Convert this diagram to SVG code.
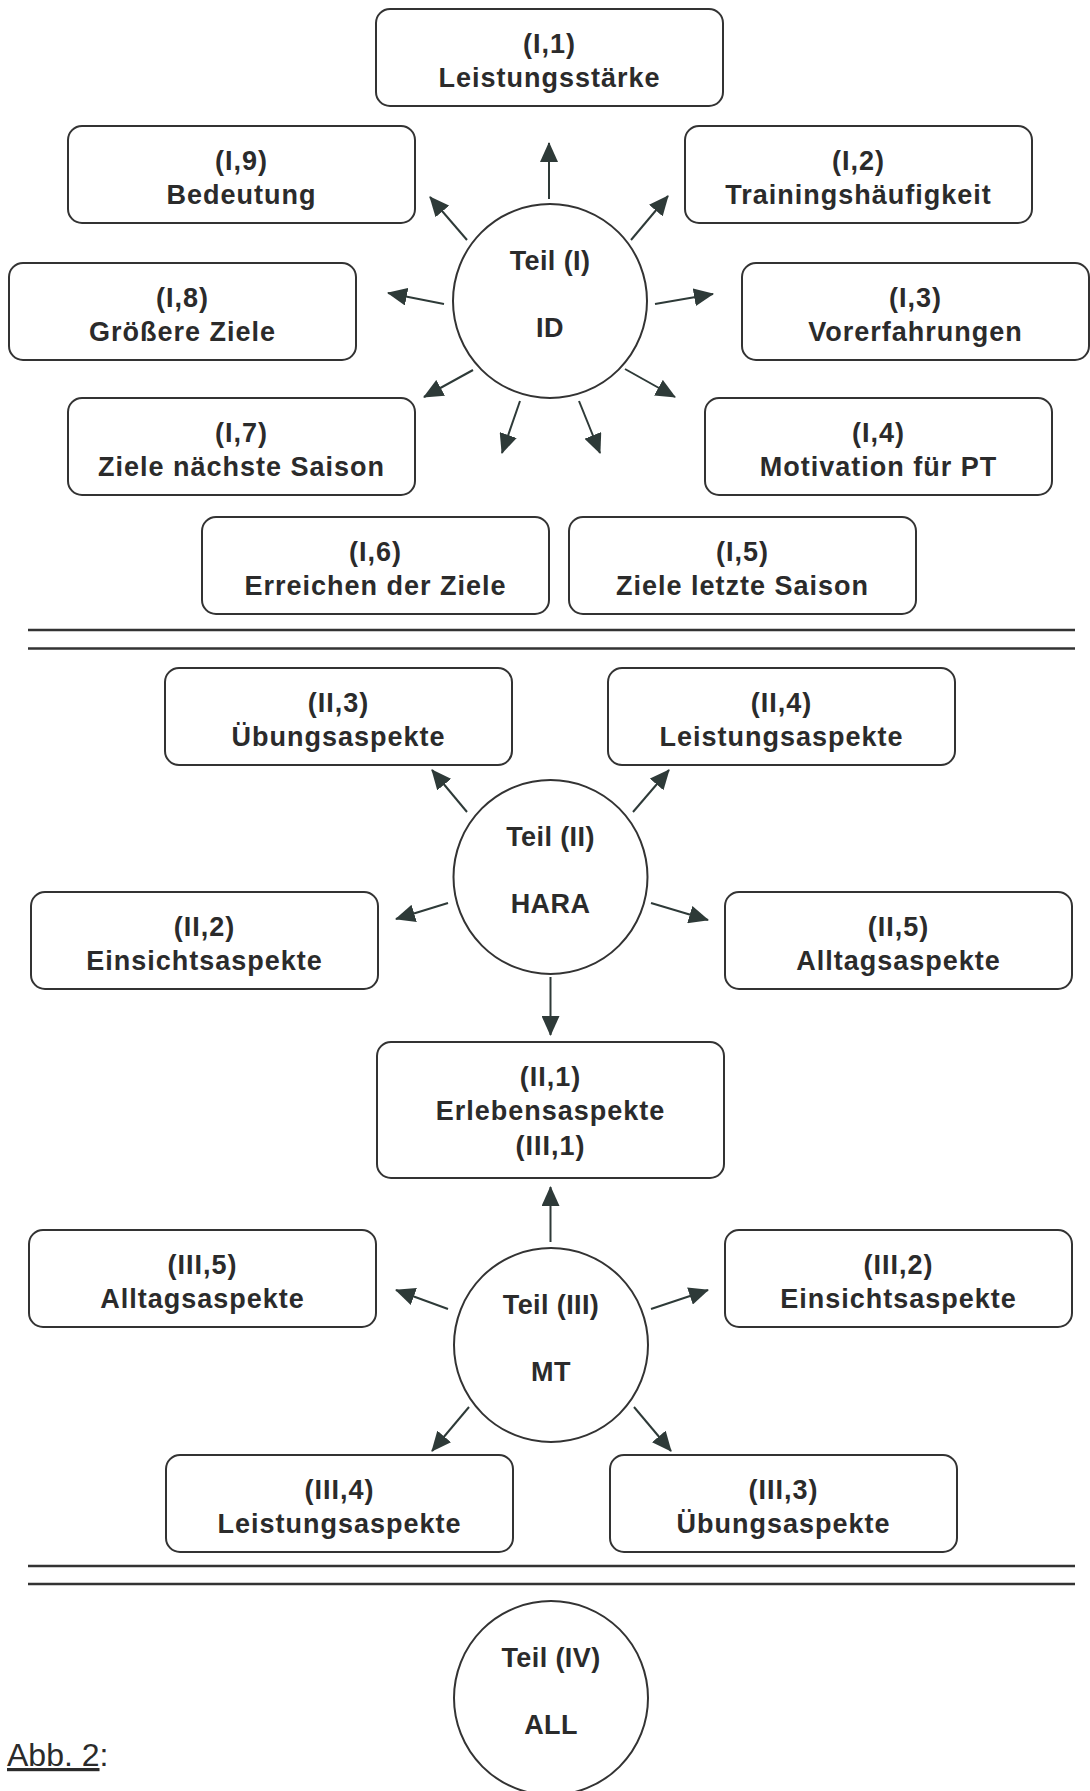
<svg xmlns="http://www.w3.org/2000/svg" width="1090" height="1791" viewBox="0 0 1090 1791">
<style>
.box{fill:#fff;stroke:#333;stroke-width:2}
.circ{fill:#fff;stroke:#333;stroke-width:2}
.t{font-family:"Liberation Sans",Arial,sans-serif;font-weight:bold;font-size:27px;letter-spacing:1px;fill:#2b2b2b;text-anchor:middle}
.ct{font-family:"Liberation Sans",Arial,sans-serif;font-weight:bold;font-size:27px;letter-spacing:0.4px;fill:#2b2b2b;text-anchor:middle}
.con{stroke:#2e3a38;stroke-width:2;fill:none;marker-end:url(#ah)}
.sep{stroke:#333;stroke-width:2.5}
.cap{font-family:"Liberation Sans",Arial,sans-serif;font-size:32px;fill:#2b2b2b}
</style>
<defs>
<marker id="ah" viewBox="0 0 20 18" refX="19" refY="9" markerWidth="20" markerHeight="18" markerUnits="userSpaceOnUse" orient="auto">
<path d="M0,0 L20,9 L0,18 z" fill="#2e3a38"/>
</marker>
</defs>
<rect width="1090" height="1791" fill="#fff"/>

<g id="separators">
<line class="sep" x1="28" y1="630" x2="1075" y2="630"/>
<line class="sep" x1="28" y1="648.5" x2="1075" y2="648.5"/>
<line class="sep" x1="28" y1="1566" x2="1075" y2="1566"/>
<line class="sep" x1="28" y1="1584" x2="1075" y2="1584"/>
</g>

<g id="connectors">
<line class="con" x1="549" y1="199" x2="549" y2="143"/>
<line class="con" x1="467" y1="240" x2="430" y2="197"/>
<line class="con" x1="631" y1="240" x2="668" y2="196"/>
<line class="con" x1="444" y1="304" x2="388" y2="293"/>
<line class="con" x1="655" y1="304" x2="713" y2="294"/>
<line class="con" x1="473" y1="370" x2="424" y2="397"/>
<line class="con" x1="625" y1="369" x2="675" y2="397"/>
<line class="con" x1="520" y1="401" x2="502" y2="453"/>
<line class="con" x1="579" y1="401" x2="600" y2="453"/>
<line class="con" x1="467" y1="812" x2="432" y2="770"/>
<line class="con" x1="633" y1="812" x2="669" y2="770"/>
<line class="con" x1="448" y1="903" x2="396" y2="919"/>
<line class="con" x1="651" y1="903" x2="708" y2="920"/>
<line class="con" x1="550.5" y1="977" x2="550.5" y2="1035"/>
<line class="con" x1="550.5" y1="1242" x2="550.5" y2="1187"/>
<line class="con" x1="448" y1="1309" x2="396" y2="1290"/>
<line class="con" x1="651" y1="1309" x2="708" y2="1290"/>
<line class="con" x1="469" y1="1407" x2="432" y2="1451"/>
<line class="con" x1="634" y1="1407" x2="671" y2="1451"/>
</g>

<g id="teil1">
<circle class="circ" cx="550" cy="301" r="97"/>
<text class="ct" x="550" y="270">Teil (I)</text>
<text class="ct" x="550" y="337">ID</text>
</g>
<g id="I1"><rect class="box" x="376" y="9" width="347" height="97" rx="14"/>
<text class="t" x="549.5" y="52.5">(I,1)</text><text class="t" x="549.5" y="86.5">Leistungsstärke</text></g>
<g id="I9"><rect class="box" x="68" y="126" width="347" height="97" rx="14"/>
<text class="t" x="241.5" y="169.5">(I,9)</text><text class="t" x="241.5" y="203.5">Bedeutung</text></g>
<g id="I2"><rect class="box" x="685" y="126" width="347" height="97" rx="14"/>
<text class="t" x="858.5" y="169.5">(I,2)</text><text class="t" x="858.5" y="203.5">Trainingshäufigkeit</text></g>
<g id="I8"><rect class="box" x="9" y="263" width="347" height="97" rx="14"/>
<text class="t" x="182.5" y="306.5">(I,8)</text><text class="t" x="182.5" y="340.5">Größere Ziele</text></g>
<g id="I3"><rect class="box" x="742" y="263" width="347" height="97" rx="14"/>
<text class="t" x="915.5" y="306.5">(I,3)</text><text class="t" x="915.5" y="340.5">Vorerfahrungen</text></g>
<g id="I7"><rect class="box" x="68" y="398" width="347" height="97" rx="14"/>
<text class="t" x="241.5" y="441.5">(I,7)</text><text class="t" x="241.5" y="475.5">Ziele nächste Saison</text></g>
<g id="I4"><rect class="box" x="705" y="398" width="347" height="97" rx="14"/>
<text class="t" x="878.5" y="441.5">(I,4)</text><text class="t" x="878.5" y="475.5">Motivation für PT</text></g>
<g id="I6"><rect class="box" x="202" y="517" width="347" height="97" rx="14"/>
<text class="t" x="375.5" y="560.5">(I,6)</text><text class="t" x="375.5" y="594.5">Erreichen der Ziele</text></g>
<g id="I5"><rect class="box" x="569" y="517" width="347" height="97" rx="14"/>
<text class="t" x="742.5" y="560.5">(I,5)</text><text class="t" x="742.5" y="594.5">Ziele letzte Saison</text></g>

<g id="teil2">
<circle class="circ" cx="550.5" cy="877" r="97"/>
<text class="ct" x="550.5" y="846">Teil (II)</text>
<text class="ct" x="550.5" y="913">HARA</text>
</g>
<g id="II3"><rect class="box" x="165" y="668" width="347" height="97" rx="14"/>
<text class="t" x="338.5" y="711.5">(II,3)</text><text class="t" x="338.5" y="745.5">Übungsaspekte</text></g>
<g id="II4"><rect class="box" x="608" y="668" width="347" height="97" rx="14"/>
<text class="t" x="781.5" y="711.5">(II,4)</text><text class="t" x="781.5" y="745.5">Leistungsaspekte</text></g>
<g id="II2"><rect class="box" x="31" y="892" width="347" height="97" rx="14"/>
<text class="t" x="204.5" y="935.5">(II,2)</text><text class="t" x="204.5" y="969.5">Einsichtsaspekte</text></g>
<g id="II5"><rect class="box" x="725" y="892" width="347" height="97" rx="14"/>
<text class="t" x="898.5" y="935.5">(II,5)</text><text class="t" x="898.5" y="969.5">Alltagsaspekte</text></g>
<g id="II1"><rect class="box" x="377" y="1042" width="347" height="136" rx="14"/>
<text class="t" x="550.5" y="1086">(II,1)</text><text class="t" x="550.5" y="1120">Erlebensaspekte</text><text class="t" x="550.5" y="1155">(III,1)</text></g>

<g id="teil3">
<circle class="circ" cx="551" cy="1345" r="97"/>
<text class="ct" x="551" y="1314">Teil (III)</text>
<text class="ct" x="551" y="1381">MT</text>
</g>
<g id="III5"><rect class="box" x="29" y="1230" width="347" height="97" rx="14"/>
<text class="t" x="202.5" y="1273.5">(III,5)</text><text class="t" x="202.5" y="1307.5">Alltagsaspekte</text></g>
<g id="III2"><rect class="box" x="725" y="1230" width="347" height="97" rx="14"/>
<text class="t" x="898.5" y="1273.5">(III,2)</text><text class="t" x="898.5" y="1307.5">Einsichtsaspekte</text></g>
<g id="III4"><rect class="box" x="166" y="1455" width="347" height="97" rx="14"/>
<text class="t" x="339.5" y="1498.5">(III,4)</text><text class="t" x="339.5" y="1532.5">Leistungsaspekte</text></g>
<g id="III3"><rect class="box" x="610" y="1455" width="347" height="97" rx="14"/>
<text class="t" x="783.5" y="1498.5">(III,3)</text><text class="t" x="783.5" y="1532.5">Übungsaspekte</text></g>

<g id="teil4">
<circle class="circ" cx="551" cy="1698" r="97"/>
<text class="ct" x="551" y="1667">Teil (IV)</text>
<text class="ct" x="551" y="1734">ALL</text>
</g>

<g id="caption">
<text class="cap" x="7" y="1766"><tspan text-decoration="underline">Abb. 2</tspan>:</text>
</g>
</svg>
